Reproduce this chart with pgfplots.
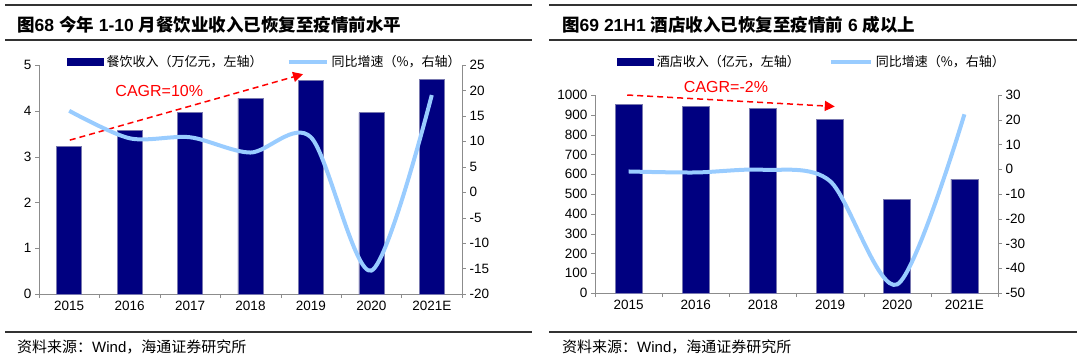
\documentclass[border=0pt]{standalone}
\usepackage{fontspec}
\setmainfont{Liberation Sans}
\newfontfamily\cjk{Noto Sans CJK SC}
\usepackage{pgfplots}
\pgfplotsset{compat=1.18}
\usetikzlibrary{arrows.meta}
\definecolor{barnavy}{RGB}{0,0,128}
\definecolor{baredge}{RGB}{120,120,175}
\definecolor{lineblue}{RGB}{153,204,255}
\definecolor{rulegray}{RGB}{50,50,50}
\definecolor{axgray}{RGB}{140,140,140}
\pgfplotsset{
  base/.style={
    scale only axis,
    axis line style={draw=axgray,-},
    tick style={draw=axgray},
    tick align=outside,
    major tick length=4pt,
    tick label style={font=\fontsize{13.5}{13.5}\selectfont},
    /pgf/number format/assume math mode=true,
    /pgf/number format/1000 sep={},
    clip=false,
  },
}
\begin{document}
\begin{tikzpicture}
\path[use as bounding box] (0,0) rectangle (1080pt,-357pt);
% ---------------- titles and rules ----------------
\draw[rulegray, line width=1.6pt] (5pt,-5pt) -- (532pt,-5pt);
\draw[rulegray, line width=1.2pt] (5pt,-40pt) -- (532pt,-40pt);
\draw[rulegray, line width=1.6pt] (549pt,-5pt) -- (1077pt,-5pt);
\draw[rulegray, line width=1.2pt] (549pt,-40pt) -- (1077pt,-40pt);
\node[anchor=west, inner sep=0pt] at (17pt,-25pt) {\fontsize{17.5}{17.5}\selectfont\bfseries{\cjk\bfseries 图}68 {\cjk\bfseries 今年} 1-10 {\cjk\bfseries 月餐饮业收入已恢复至疫情前水平}};
\node[anchor=west, inner sep=0pt] at (562pt,-25pt) {\fontsize{17.5}{17.5}\selectfont\bfseries{\cjk\bfseries 图}69 21H1 {\cjk\bfseries 酒店收入已恢复至疫情前} 6 {\cjk\bfseries 成以上}};
\draw[rulegray, line width=1.2pt] (5pt,-332pt) -- (532pt,-332pt);
\draw[rulegray, line width=1.2pt] (549pt,-332pt) -- (1077pt,-332pt);
\node[anchor=west, inner sep=0pt] at (17pt,-347pt) {\fontsize{15}{15}\selectfont{\cjk 资料来源：}Wind{\cjk ，海通证券研究所}};
\node[anchor=west, inner sep=0pt] at (562pt,-347pt) {\fontsize{15}{15}\selectfont{\cjk 资料来源：}Wind{\cjk ，海通证券研究所}};
% ---------------- left chart ----------------
\begin{axis}[base,
  at={(39pt,-294pt)}, anchor=south west,
  width=423pt, height=229pt,
  xmin=-0.5, xmax=6.5, ymin=0, ymax=5,
  ytick={0,1,2,3,4,5},
  xtick={-0.5,0.5,...,6.5},
  xticklabels={2015,2016,2017,2018,2019,2020,2021E},
  x tick label as interval,
  axis x line*=bottom, axis y line*=left,
  legend columns=2,
  legend style={at={(0.066,1.013)}, anchor=west, draw=none, fill=none,
    inner sep=0pt, font=\cjk\fontsize{13}{13}\selectfont,
    /tikz/every even column/.append style={column sep=22pt},
    /tikz/every odd column/.append style={column sep=1pt}},
]
\addplot[ybar, bar width=25pt, fill=barnavy, draw=baredge, line width=0.6pt,
  legend image code/.code={\fill[barnavy] (0pt,-3.5pt) rectangle (36pt,3.5pt);}]
  coordinates {(0,3.23) (1,3.58) (2,3.97) (3,4.27) (4,4.67) (5,3.96) (6,4.69)};
\addlegendentry{餐饮收入（万亿元，左轴）}
\addlegendimage{legend image code/.code={\draw[lineblue, line width=4pt] (0pt,0pt) -- (38pt,0pt);}}
\addlegendentry{同比增速（\%，右轴）}
\draw[red, dash pattern=on 6pt off 4pt, line width=1.5pt, -{Triangle[length=10pt,width=10pt]}] (axis cs:0.01,3.36) -- (axis cs:3.87,4.80);
\node[red, font=\fontsize{16}{16}\selectfont] at (axis cs:1.49,4.43) {CAGR=10\%};
\end{axis}
\begin{axis}[base,
  at={(39pt,-294pt)}, anchor=south west,
  width=423pt, height=229pt,
  xmin=-0.5, xmax=6.5, ymin=-20, ymax=25,
  ytick={-20,-15,...,25},
  axis y line*=right, axis x line=none,
]
\addplot[smooth, lineblue, line width=4pt] coordinates {(0,16.0) (1,10.6) (2,10.8) (3,7.8) (4,10.8) (5,-15.4) (6,19.1)};
\end{axis}
% ---------------- right chart ----------------
\begin{axis}[base,
  at={(595pt,-293pt)}, anchor=south west,
  width=403pt, height=198pt,
  xmin=-0.5, xmax=5.5, ymin=0, ymax=1000,
  ytick={0,100,...,1000},
  xtick={-0.5,0.5,...,5.5},
  xticklabels={2015,2016,2018,2019,2020,2021E},
  x tick label as interval,
  axis x line*=bottom, axis y line*=left,
  legend columns=2,
  legend style={at={(0.055,1.167)}, anchor=west, draw=none, fill=none,
    inner sep=0pt, font=\cjk\fontsize{13}{13}\selectfont,
    /tikz/every even column/.append style={column sep=27pt},
    /tikz/every odd column/.append style={column sep=1pt}},
]
\addplot[ybar, bar width=27pt, fill=barnavy, draw=baredge, line width=0.6pt,
  legend image code/.code={\fill[barnavy] (0pt,-3.5pt) rectangle (36pt,3.5pt);}]
  coordinates {(0,953) (1,941) (2,931) (3,877) (4,471) (5,575)};
\addlegendentry{酒店收入（亿元，左轴）}
\addlegendimage{legend image code/.code={\draw[lineblue, line width=4pt] (0pt,0pt) -- (40pt,0pt);}}
\addlegendentry{同比增速（\%，右轴）}
\draw[red, dash pattern=on 6pt off 4pt, line width=1.5pt, -{Triangle[length=10pt,width=10pt]}] (axis cs:-0.02,1000) -- (axis cs:3.07,942);
\node[red, font=\fontsize{16}{16}\selectfont] at (axis cs:1.45,1039) {CAGR=-2\%};
\end{axis}
\begin{axis}[base,
  at={(595pt,-293pt)}, anchor=south west,
  width=403pt, height=198pt,
  xmin=-0.5, xmax=5.5, ymin=-50, ymax=30,
  ytick={-50,-40,...,30},
  axis y line*=right, axis x line=none,
]
\addplot[smooth, lineblue, line width=4pt] coordinates {(0,-0.9) (1,-1.3) (2,-0.2) (3,-4.8) (4,-46.5) (5,22.2)};
\end{axis}
\end{tikzpicture}
\end{document}
